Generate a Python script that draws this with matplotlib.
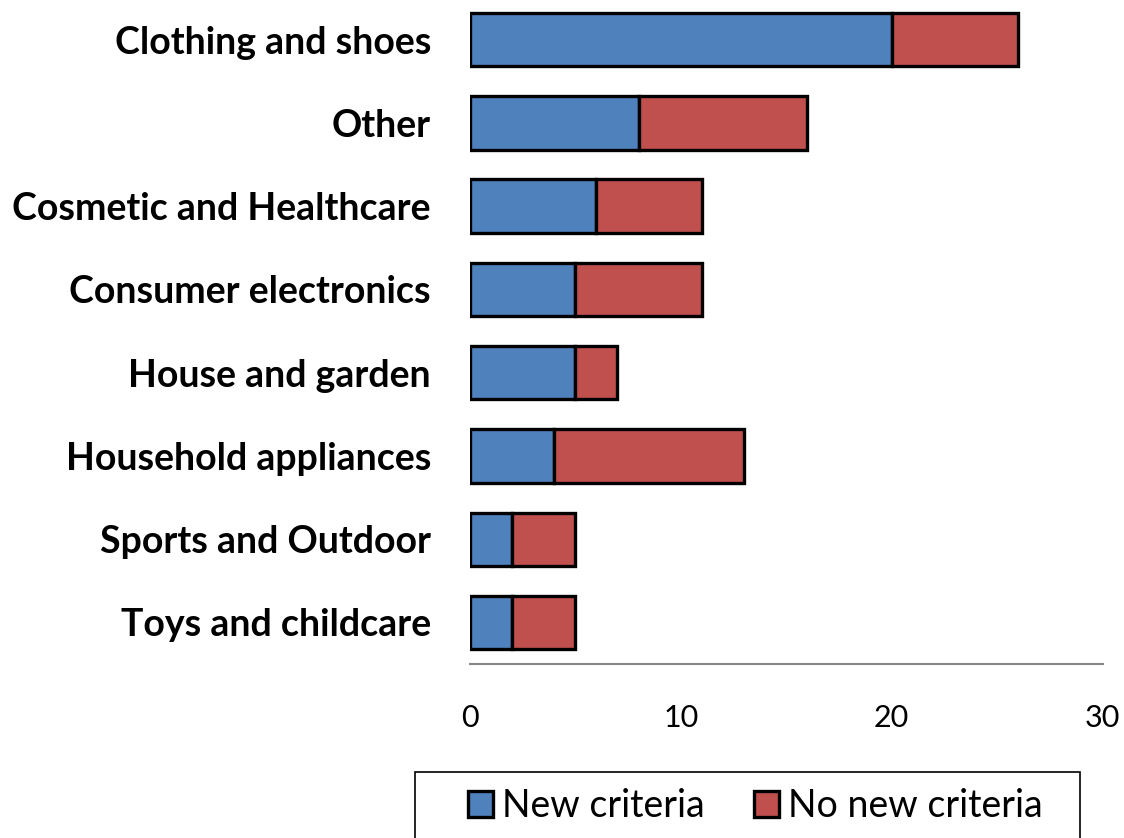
import numpy as np
from matplotlib import pyplot as plt
from matplotlib.patches import Rectangle

# data
categories = ['Clothing and shoes', 'Other', 'Cosmetic and Healthcare',
              'Consumer electronics', 'House and garden', 'Household appliances',
              'Sports and Outdoor', 'Toys and childcare']
new_criteria = [20, 8, 6, 5, 5, 4, 2, 2]
no_new_criteria = [6, 8, 5, 6, 2, 9, 3, 3]
xticks = [0, 10, 20, 30]

plt.rcParams['font.family'] = ['Lato', 'DejaVu Sans']

fig = plt.figure(figsize=(11.24, 8.38), dpi=100)
ax = fig.add_axes([0.418, 0.2076, 0.563, 0.7948])

y = np.arange(len(categories))
ax.barh(y, new_criteria, height=0.64, color='#4F81BD', edgecolor='black',
        linewidth=2.4, label='New criteria')
ax.barh(y, no_new_criteria, left=new_criteria, height=0.64, color='#C0504D',
        edgecolor='black', linewidth=2.4, label='No new criteria')

ax.set_xlim(0, 30)
ax.set_ylim(len(categories) - 0.5, -0.5)
ax.set_xticks(xticks)
ax.set_xticklabels([str(t) for t in xticks], fontsize=22, color='black')
ax.set_yticks(y)
ax.set_yticklabels(categories, fontsize=27, fontweight='bold')
ax.tick_params(axis='both', length=0)
ax.tick_params(axis='x', pad=29)
ax.tick_params(axis='y', pad=28)
for s in ['top', 'right', 'left']:
    ax.spines[s].set_visible(False)
ax.spines['bottom'].set_color('#868686')
ax.spines['bottom'].set_linewidth(1.5)

# legend box (cut off by the bottom edge, like the reference)
fig.patches.append(Rectangle((415 / 1124, -0.05), 665 / 1124, 0.05 + 66 / 838,
                             transform=fig.transFigure, fill=False,
                             edgecolor='black', linewidth=1.2, clip_on=False))
leg = fig.legend(loc='center', bbox_to_anchor=(0.672, 0.038), ncol=2,
                 fontsize=27, frameon=False, handlelength=0.67, handleheight=0.67,
                 handletextpad=0.25, columnspacing=1.3)

plt.savefig('out.png', dpi=100)
